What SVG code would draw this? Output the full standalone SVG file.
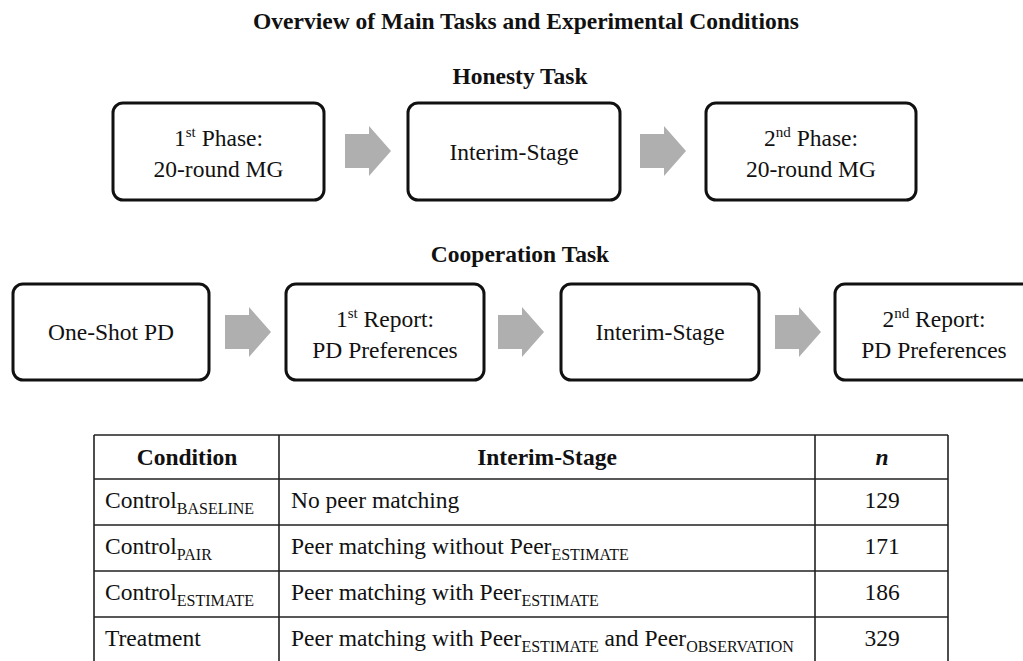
<svg xmlns="http://www.w3.org/2000/svg" width="1023" height="661" viewBox="0 0 1023 661" font-family="'Liberation Serif', 'Times New Roman', Tinos, 'DejaVu Serif', serif">
<style>
text{font-family:"Liberation Serif","Times New Roman",Tinos,"DejaVu Serif",serif;fill:#111;font-size:23.5px}
.b{font-weight:bold}
.c{text-anchor:middle}
.box{fill:#fff;stroke:#111;stroke-width:3}
.arr{fill:#afafaf}
.tl{stroke:#222;stroke-width:1.6;fill:none}
.sup{font-size:15px}
.sub{font-size:16px}
</style>
<defs>
<path id="blk" d="M0,-17 H24 V-25 L46,0 L24,25 V17 H0 Z"/>
</defs>
<rect width="1023" height="661" fill="#fff"/>
<text class="b c" x="526" y="29">Overview of Main Tasks and Experimental Conditions</text>
<text class="b c" x="520" y="84">Honesty Task</text>
<text class="b c" x="520" y="262">Cooperation Task</text>

<g id="connectors">
<use href="#blk" class="arr" x="345" y="151"/>
<use href="#blk" class="arr" x="640" y="151"/>
<use href="#blk" class="arr" x="225" y="332"/>
<use href="#blk" class="arr" x="498" y="332"/>
<use href="#blk" class="arr" x="775" y="332"/>
</g>

<g id="h1">
<rect class="box" x="113" y="103" width="211" height="97" rx="10"/>
<text class="c" x="218.5" y="146">1<tspan class="sup" dy="-9">st</tspan><tspan dy="9"> Phase:</tspan></text>
<text class="c" x="218.5" y="177">20-round MG</text>
</g>
<g id="h2">
<rect class="box" x="408" y="103" width="212" height="97" rx="10"/>
<text class="c" x="514" y="160">Interim-Stage</text>
</g>
<g id="h3">
<rect class="box" x="706" y="103" width="210" height="97" rx="10"/>
<text class="c" x="811" y="146">2<tspan class="sup" dy="-9">nd</tspan><tspan dy="9"> Phase:</tspan></text>
<text class="c" x="811" y="177">20-round MG</text>
</g>

<g id="c1">
<rect class="box" x="13" y="284" width="196" height="96" rx="10"/>
<text class="c" x="111" y="340">One-Shot PD</text>
</g>
<g id="c2">
<rect class="box" x="286" y="284" width="198" height="96" rx="10"/>
<text class="c" x="385" y="327">1<tspan class="sup" dy="-9">st</tspan><tspan dy="9"> Report:</tspan></text>
<text class="c" x="385" y="358">PD Preferences</text>
</g>
<g id="c3">
<rect class="box" x="561" y="284" width="198" height="96" rx="10"/>
<text class="c" x="660" y="340">Interim-Stage</text>
</g>
<g id="c4">
<rect class="box" x="835" y="284" width="198" height="96" rx="10"/>
<text class="c" x="934" y="327">2<tspan class="sup" dy="-9">nd</tspan><tspan dy="9"> Report:</tspan></text>
<text class="c" x="934" y="358">PD Preferences</text>
</g>

<g id="table">
<path class="tl" d="M94,435 H948 M94,479 H948 M94,525 H948 M94,571 H948 M94,617 H948 M94,435 V662 M279,435 V662 M815,435 V662 M948,435 V662"/>
<text class="b c" x="187" y="465">Condition</text>
<text class="b c" x="547" y="465">Interim-Stage</text>
<text class="b c" x="882" y="465" font-style="italic">n</text>

<text x="105" y="508">Control<tspan class="sub" dy="6">BASELINE</tspan></text>
<text x="291" y="508">No peer matching</text>
<text class="c" x="882" y="508">129</text>

<text x="105" y="554">Control<tspan class="sub" dy="6">PAIR</tspan></text>
<text x="291" y="554">Peer matching without Peer<tspan class="sub" dy="6">ESTIMATE</tspan></text>
<text class="c" x="882" y="554">171</text>

<text x="105" y="600">Control<tspan class="sub" dy="6">ESTIMATE</tspan></text>
<text x="291" y="600">Peer matching with Peer<tspan class="sub" dy="6">ESTIMATE</tspan></text>
<text class="c" x="882" y="600">186</text>

<text x="105" y="646">Treatment</text>
<text x="291" y="646">Peer matching with Peer<tspan class="sub" dy="6">ESTIMATE</tspan><tspan dy="-6"> and Peer</tspan><tspan class="sub" dy="6">OBSERVATION</tspan></text>
<text class="c" x="882" y="646">329</text>
</g>
</svg>
